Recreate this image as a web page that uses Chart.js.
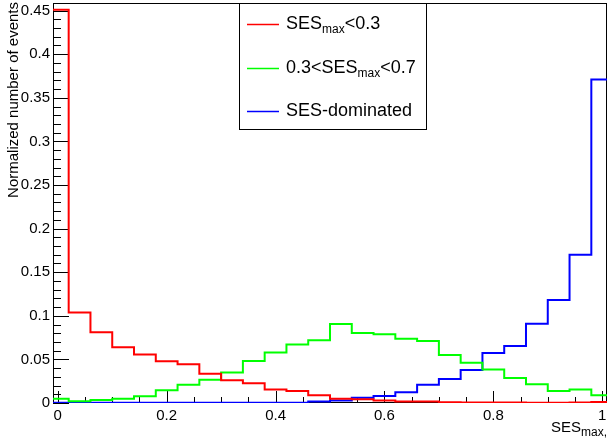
<!DOCTYPE html>
<html lang="en">
<head>
<meta charset="UTF-8">
<script src="https://cdn.jsdelivr.net/npm/chart.js@4.4.1/dist/chart.umd.min.js"></script>
<title>SES max distribution</title>
<style>
  html, body { margin: 0; padding: 0; background: #fff; }
  #wrap { width: 608px; height: 441px; }
</style>
</head>
<body>
<div id="wrap"><canvas id="sesChart" width="608" height="441"></canvas></div>
<script>
// 26 bins of width 0.04, the first one centred on 0
const binLow = -0.02;
const binWidth = 0.04;

// normalized contents per bin
const sesLow = [0.451, 0.1037, 0.0811, 0.0639, 0.0555, 0.0478, 0.0444, 0.0335, 0.026, 0.0226,
  0.0154, 0.0138, 0.0088, 0.005, 0.0042, 0.003, 0.0016, 0.0016, 0.0008, 0.0006,
  0.0005, 0.0005, 0.0004, 0.0004, 0.0005, 0.0012];
const sesMid = [0.005, 0.002, 0.0034, 0.005, 0.0077, 0.0146, 0.021, 0.0268, 0.0349, 0.0482,
  0.0578, 0.067, 0.0719, 0.0906, 0.0803, 0.0788, 0.0738, 0.0711, 0.055, 0.0463,
  0.0383, 0.0287, 0.0214, 0.0138, 0.0154, 0.0088];
const sesDominated = [0.0004, 0.0004, 0.0004, 0.0004, 0.0004, 0.0004, 0.0004, 0.0004, 0.0004, 0.0004,
  0.0004, 0.0004, 0.0016, 0.003, 0.006, 0.008, 0.0123, 0.021, 0.0275, 0.0378,
  0.0573, 0.0654, 0.091, 0.118, 0.170, 0.371];

const xTicks = [0, 0.2, 0.4, 0.6, 0.8, 1];
const xTickLabels = ['0', '0.2', '0.4', '0.6', '0.8', '1'];
const yTicks = [0, 0.05, 0.1, 0.15, 0.2, 0.25, 0.3, 0.35, 0.4, 0.45];
const yTickLabels = ['0', '0.05', '0.1', '0.15', '0.2', '0.25', '0.3', '0.35', '0.4', '0.45'];

const FONT = '"Liberation Sans", Arial, Helvetica, sans-serif';

// left bin edges plus the closing edge; 'before' steps hold each value across its bin
function toSteps(values) {
  const pts = values.map((v, i) => ({ x: binLow + i * binWidth, y: v }));
  pts.push({ x: binLow + values.length * binWidth, y: values[values.length - 1] });
  return pts;
}

// text with a lowered "max"-style subscript in the middle
function subText(ctx, x, y, parts, size, subSize) {
  let cx = x;
  parts.forEach(p => {
    ctx.font = (p.sub ? subSize : size) + 'px ' + FONT;
    ctx.fillText(p.t, cx, p.sub ? y + size * 0.28 : y);
    cx += ctx.measureText(p.t).width;
  });
}

const frameAxes = {
  id: 'frameAxes',
  beforeDatasetsDraw(chart) {
    const { ctx, chartArea: a, scales: { x, y } } = chart;
    ctx.save();
    ctx.strokeStyle = '#000';
    ctx.lineWidth = 1;
    ctx.strokeRect(Math.round(a.left) + 0.5, Math.round(a.top) + 0.5,
      Math.round(a.right - a.left) - 1, Math.round(a.bottom - a.top) - 1);

    // inside tick marks
    ctx.beginPath();
    for (let k = 0; k <= 45; k++) {
      const py = Math.round(y.getPixelForValue(k / 100)) + 0.5;
      const len = k % 5 === 0 ? 16 : 8;
      ctx.moveTo(a.left, py);
      ctx.lineTo(a.left + len, py);
    }
    for (let k = 0; k <= 20; k++) {
      const px = Math.round(x.getPixelForValue(k / 20)) + 0.5;
      const len = k % 4 === 0 ? 12 : 6;
      ctx.moveTo(px, a.bottom);
      ctx.lineTo(px, a.bottom - len);
    }
    ctx.stroke();

    // tick labels
    ctx.fillStyle = '#000';
    ctx.font = '15px ' + FONT;
    ctx.textAlign = 'right';
    ctx.textBaseline = 'middle';
    yTicks.forEach((v, i) => ctx.fillText(yTickLabels[i], a.left - 3, y.getPixelForValue(v)));
    ctx.textAlign = 'center';
    ctx.textBaseline = 'top';
    xTicks.forEach((v, i) => ctx.fillText(xTickLabels[i], x.getPixelForValue(v), a.bottom + 5));

    // axis titles
    ctx.save();
    ctx.translate(18, a.top - 1);
    ctx.rotate(-Math.PI / 2);
    ctx.textAlign = 'right';
    ctx.textBaseline = 'alphabetic';
    ctx.font = '15px ' + FONT;
    ctx.fillText('Normalized number of events', 0, 0);
    ctx.restore();

    ctx.textAlign = 'left';
    ctx.textBaseline = 'alphabetic';
    subText(ctx, 551, 432, [{ t: 'SES' }, { t: 'max, i', sub: true }], 15, 12);
    ctx.restore();
  },
  afterDatasetsDraw(chart) {
    const { ctx } = chart;
    const box = { l: 239.5, t: 3.5, r: 426.5, b: 129.5 };
    ctx.save();
    ctx.fillStyle = '#fff';
    ctx.fillRect(box.l, box.t, box.r - box.l, box.b - box.t);
    ctx.strokeStyle = '#000';
    ctx.lineWidth = 1;
    ctx.strokeRect(box.l, box.t, box.r - box.l, box.b - box.t);

    const entries = [
      { color: '#ff0000', y: 24.5, parts: [{ t: 'SES' }, { t: 'max', sub: true }, { t: '<0.3' }] },
      { color: '#00ff00', y: 68.5, parts: [{ t: '0.3<SES' }, { t: 'max', sub: true }, { t: '<0.7' }] },
      { color: '#0000ff', y: 111.5, parts: [{ t: 'SES-dominated' }] }
    ];
    ctx.textBaseline = 'middle';
    ctx.textAlign = 'left';
    entries.forEach(e => {
      ctx.strokeStyle = e.color;
      ctx.lineWidth = 1.5;
      ctx.beginPath();
      ctx.moveTo(247, e.y);
      ctx.lineTo(279, e.y);
      ctx.stroke();
      ctx.fillStyle = '#000';
      subText(ctx, 286, e.y, e.parts, 18, 12);
    });
    ctx.restore();
  }
};

const mkSet = (label, values, color) => ({
  label: label,
  data: toSteps(values),
  borderColor: color,
  borderWidth: 2,
  stepped: 'before',
  pointRadius: 0,
  fill: false
});

new Chart(document.getElementById('sesChart'), {
  type: 'line',
  data: {
    datasets: [
      mkSet('SESmax<0.3', sesLow, '#ff0000'),
      mkSet('0.3<SESmax<0.7', sesMid, '#00ff00'),
      mkSet('SES-dominated', sesDominated, '#0000ff')
    ]
  },
  options: {
    responsive: false,
    animation: false,
    layout: { padding: { left: 53, top: 3, right: 1, bottom: 38 } },
    scales: {
      x: { type: 'linear', min: -0.0088, max: 1.0088, display: false },
      y: { min: 0, max: 0.4587, display: false }
    },
    plugins: { legend: { display: false }, tooltip: { enabled: false } }
  },
  plugins: [frameAxes]
});
</script>
</body>
</html>
